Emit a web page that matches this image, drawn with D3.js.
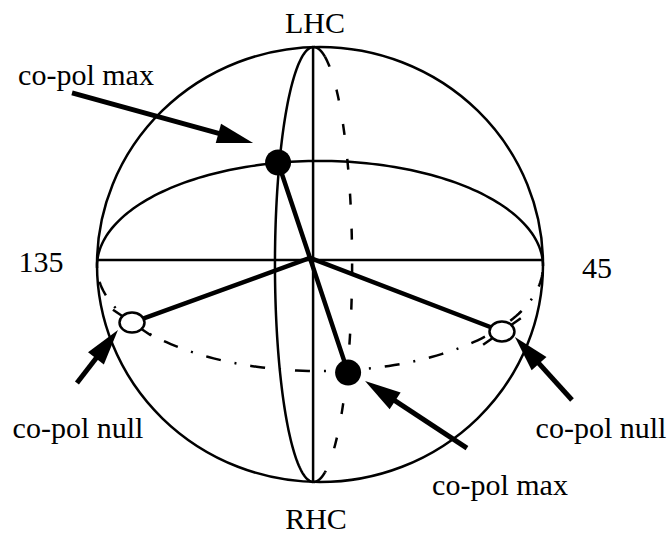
<!DOCTYPE html>
<html>
<head>
<meta charset="utf-8">
<script src="https://cdn.jsdelivr.net/npm/d3@7"></script>
<style>
body { margin: 0; background: #fff; }
text { font-family: "Liberation Serif", "Times New Roman", serif; font-size: 30px; fill: #000; }
</style>
</head>
<body>
<div id="chart"></div>
<script>
// sphere coords: unit radius, u to the right, v up
var poleNames = ["LHC", "RHC"];
var sideNames = ["135", "45"];
var arrowNames = ["co-pol max", "co-pol null", "co-pol null", "co-pol max"];

var hub = [-0.045, 0.03];
var maxPoints = [[-0.188, 0.469], [0.126, -0.497]];
var nullPoints = [[-0.843, -0.267], [0.816, -0.308]];
var nullTilt = [34, -35];

var arrowTails = [[-1.112, 0.789], [-1.090, -0.545], [1.130, -0.623], [0.659, -0.844]];
var arrowTips = [[-0.300, 0.559], [-0.906, -0.301], [0.874, -0.333], [0.202, -0.536]];

// equator ellipse [centre v, radius v], meridian ellipse [centre u, radius u]
var equatorEllipse = [-0.007, 0.483];
var meridianEllipse = [-0.029, 0.173];
var equatorLine = 0.021;
var poleAxis = -0.031;

//svg size
var svgWidth = 672;
var svgHeight = 535;

var svg = d3.select("#chart")
    .append("svg")
    .attr("width", svgWidth)
    .attr("height", svgHeight);

//scales
var xScale = d3.scaleLinear().domain([-1, 1]).range([97, 543]);
var yScale = d3.scaleLinear().domain([-1, 1]).range([482, 47]);

var line = d3.line()
    .x(d => xScale(d[0]))
    .y(d => yScale(d[1]));

// sample an ellipse between two angles (t=0 at right, counter-clockwise)
function arc(cu, cv, ru, rv, t0, t1) {
    return d3.range(0, 121).map(function(i) {
        var t = t0 + (t1 - t0) * i / 120;
        return [cu + ru * Math.cos(t), cv + rv * Math.sin(t)];
    });
}

var thin = 2.5;

//outline
svg.append("ellipse")
    .attr("cx", xScale(0))
    .attr("cy", yScale(0))
    .attr("rx", xScale(1) - xScale(0))
    .attr("ry", yScale(0) - yScale(1))
    .attr("fill", "none")
    .attr("stroke", "#000")
    .attr("stroke-width", thin);

//equator: front (upper) solid, back (lower) dash-dot
svg.append("path")
    .attr("d", line(arc(0, equatorEllipse[0], 1, equatorEllipse[1], 0, Math.PI)))
    .attr("fill", "none").attr("stroke", "#000").attr("stroke-width", thin);
svg.append("path")
    .attr("d", line(arc(0, equatorEllipse[0], 1, equatorEllipse[1], Math.PI, 2 * Math.PI)))
    .attr("fill", "none").attr("stroke", "#000").attr("stroke-width", thin)
    .attr("stroke-dasharray", "2,14,15,14");

//straight axes
svg.append("path")
    .attr("d", line([[-1, equatorLine], [1, equatorLine]]))
    .attr("stroke", "#000").attr("stroke-width", thin);
svg.append("path")
    .attr("d", line([[poleAxis, 1], [poleAxis, -1]]))
    .attr("stroke", "#000").attr("stroke-width", thin);

//meridian: left solid, right dashed with solid ends near poles
svg.append("path")
    .attr("d", line(arc(meridianEllipse[0], 0, meridianEllipse[1], 1, Math.PI / 2, 1.5 * Math.PI)))
    .attr("fill", "none").attr("stroke", "#000").attr("stroke-width", thin);
svg.append("path")
    .attr("d", line(arc(meridianEllipse[0], 0, meridianEllipse[1], 1, Math.PI / 2 - 0.3, -Math.PI / 2 + 0.3)))
    .attr("fill", "none").attr("stroke", "#000").attr("stroke-width", thin)
    .attr("stroke-dasharray", "11,24");
[[Math.PI / 2, Math.PI / 2 - 0.3], [-Math.PI / 2, -Math.PI / 2 + 0.3]].forEach(function(r) {
    svg.append("path")
        .attr("d", line(arc(meridianEllipse[0], 0, meridianEllipse[1], 1, r[0], r[1])))
        .attr("fill", "none").attr("stroke", "#000").attr("stroke-width", thin);
});

//spokes from hub
maxPoints.concat(nullPoints).forEach(function(p) {
    svg.append("path")
        .attr("d", line([hub, p]))
        .attr("stroke", "#000").attr("stroke-width", 4.5)
        .attr("stroke-linecap", "round");
});

//co-pol max dots
svg.selectAll(".maxDot")
    .data(maxPoints)
    .enter()
    .append("circle")
    .attr("cx", d => xScale(d[0]))
    .attr("cy", d => yScale(d[1]))
    .attr("r", 13)
    .attr("fill", "#000");

//co-pol null markers
nullPoints.forEach(function(p, i) {
    var g = svg.append("g")
        .attr("transform", `translate(${xScale(p[0])}, ${yScale(p[1])}) rotate(${nullTilt[i]})`);
    [[-23, -10], [10, 23]].forEach(function(s) {
        g.append("line")
            .attr("x1", s[0]).attr("x2", s[1])
            .attr("stroke", "#000").attr("stroke-width", 2.5);
    });
    g.append("ellipse")
        .attr("rx", 12.5).attr("ry", 10)
        .attr("transform", `rotate(${-nullTilt[i]})`)
        .attr("fill", "#fff").attr("stroke", "#000").attr("stroke-width", 2.5);
});

//arrows
arrowTails.forEach(function(t, i) {
    var x0 = xScale(t[0]), y0 = yScale(t[1]);
    var x1 = xScale(arrowTips[i][0]), y1 = yScale(arrowTips[i][1]);
    var len = Math.hypot(x1 - x0, y1 - y0);
    var ux = (x1 - x0) / len, uy = (y1 - y0) / len;
    var head = 36, half = 10;
    var bx = x1 - ux * head, by = y1 - uy * head;
    svg.append("line")
        .attr("x1", x0).attr("y1", y0)
        .attr("x2", bx + ux * 4).attr("y2", by + uy * 4)
        .attr("stroke", "#000").attr("stroke-width", 5);
    svg.append("path")
        .attr("d", `M${x1},${y1}L${bx - uy * half},${by + ux * half}L${bx + uy * half},${by - ux * half}Z`)
        .attr("fill", "#000");
});

//labels
var poleSpots = [[315, 33], [316, 529]];
var sideSpots = [[41, 272], [597, 278]];
var arrowSpots = [[86, 85], [78, 438], [601, 438], [500, 495]];

svg.selectAll(".pole")
    .data(poleNames)
    .enter()
    .append("text")
    .attr("x", (d, i) => poleSpots[i][0])
    .attr("y", (d, i) => poleSpots[i][1])
    .attr("text-anchor", "middle")
    .text(d => d);
svg.selectAll(".side")
    .data(sideNames)
    .enter()
    .append("text")
    .attr("x", (d, i) => sideSpots[i][0])
    .attr("y", (d, i) => sideSpots[i][1])
    .attr("text-anchor", "middle")
    .text(d => d);
svg.selectAll(".arrowLabel")
    .data(arrowNames)
    .enter()
    .append("text")
    .attr("x", (d, i) => arrowSpots[i][0])
    .attr("y", (d, i) => arrowSpots[i][1])
    .attr("text-anchor", "middle")
    .text(d => d);
</script>
</body>
</html>
